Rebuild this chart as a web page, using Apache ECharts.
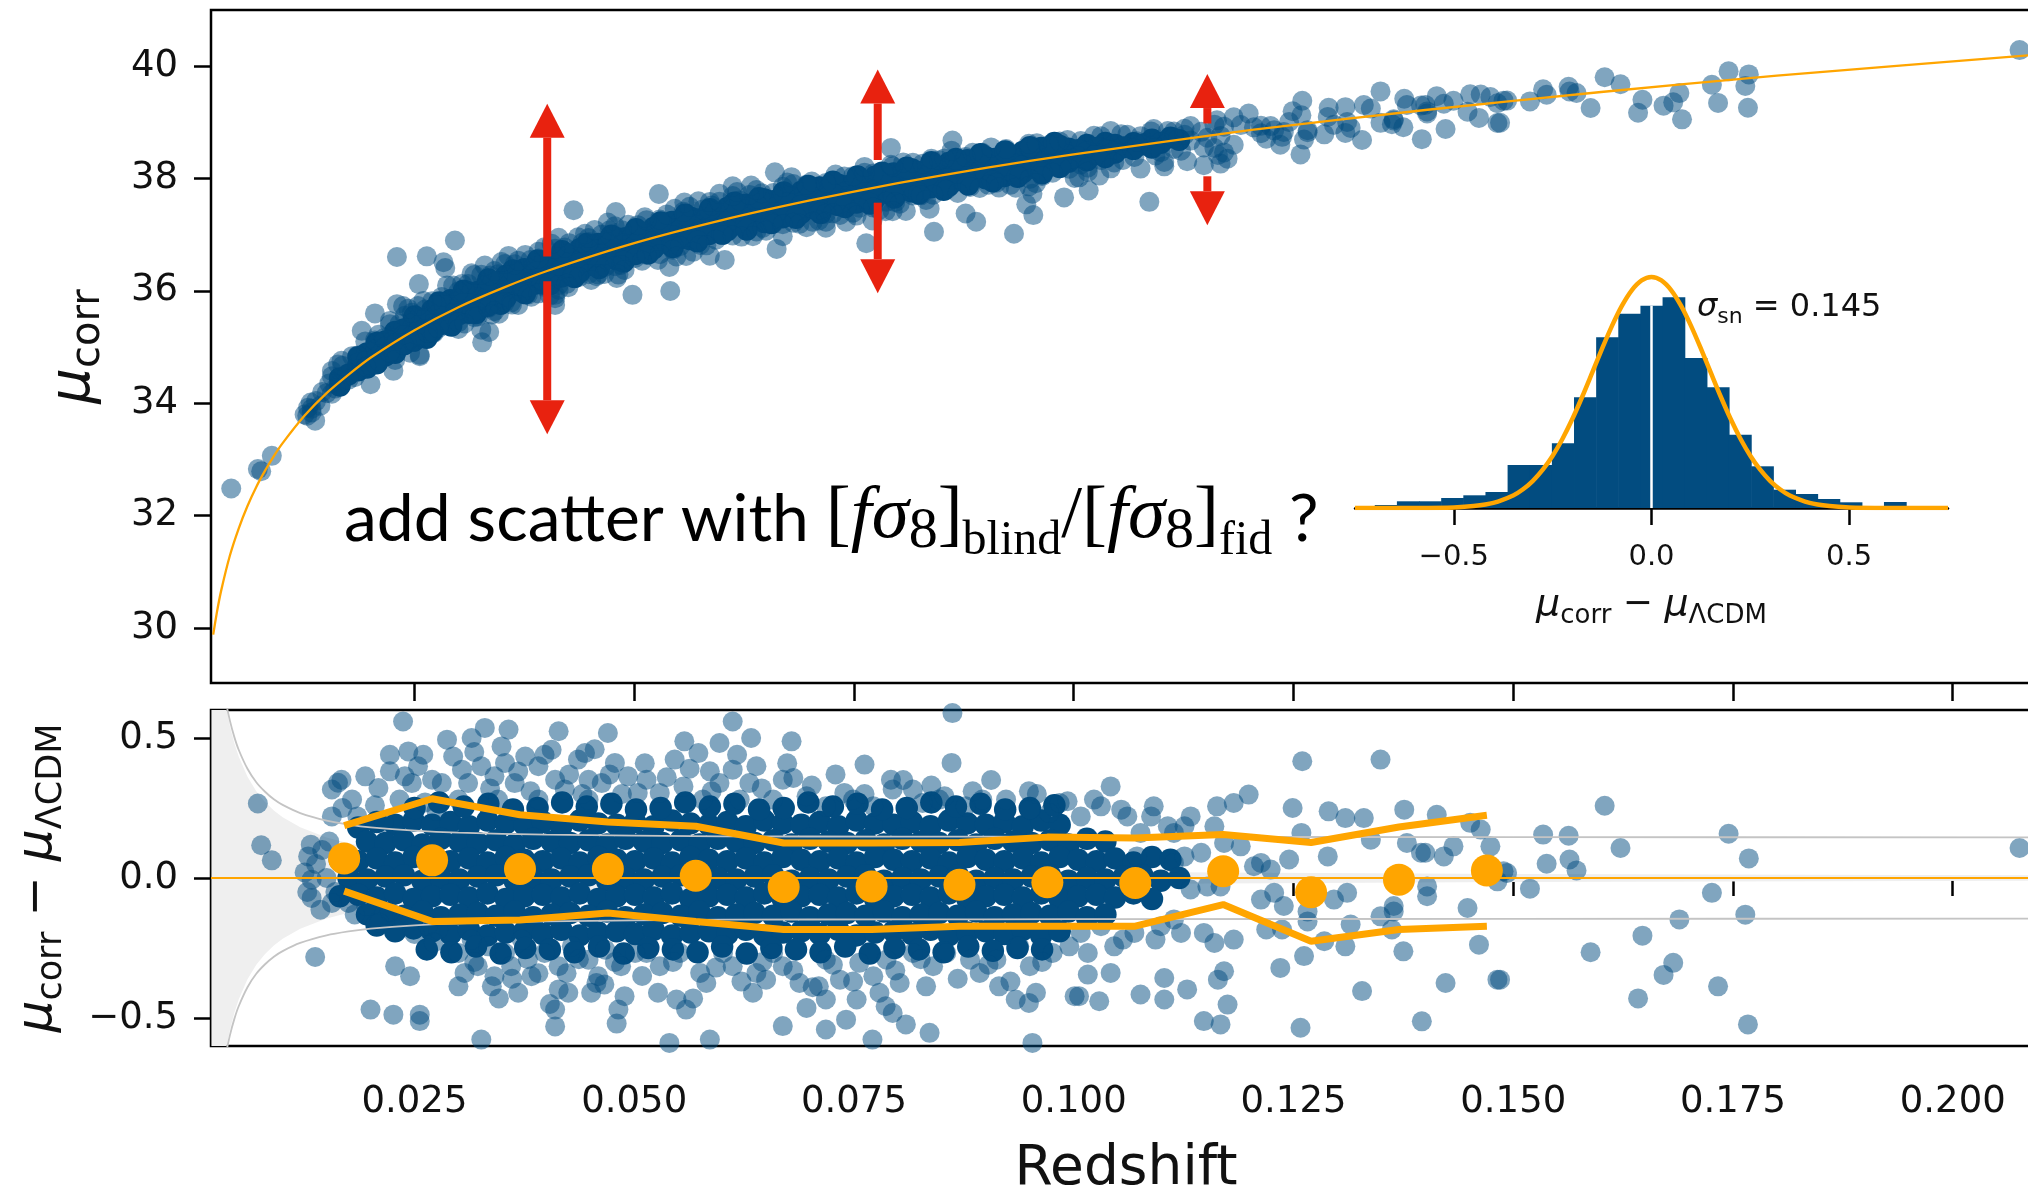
<!DOCTYPE html>
<html><head><meta charset="utf-8">
<script src="https://cdn.jsdelivr.net/npm/echarts/dist/echarts.min.js"></script>
<style>html,body{margin:0;padding:0;background:#fff}#c{width:2028px;height:1185px}</style>
</head><body><div id="c"></div>
<script>
// ---------------- data ----------------
const xTicks = [0.025,0.050,0.075,0.100,0.125,0.150,0.175,0.200];
const muTicks = [30,32,34,36,38,40];
const residTicks = [-0.5,0.0,0.5];
const histTicks = [-0.5,0.0,0.5];

// Lambda-CDM distance modulus curve
const curveZ  = [0.0021,0.0025,0.003,0.004,0.005,0.006,0.007,0.008,0.009,0.010,0.0125,0.015,0.0175,0.02,0.025,0.03,0.035,0.04,0.05,0.06,0.07,0.08,0.09,0.10,0.12,0.14,0.16,0.18,0.21];
const curveMu = [29.88,30.26,30.66,31.29,31.77,32.17,32.51,32.80,33.06,33.29,33.78,34.18,34.51,34.81,35.30,35.71,36.05,36.35,36.85,37.26,37.61,37.92,38.19,38.43,38.86,39.22,39.54,39.83,40.21];

// Hubble residuals (redshift, mu_corr - mu_LCDM): dense core of the sample
const snCore = [
[0.0186,0.18],[0.0207,0.2],[0.0228,0.19],[0.0249,0.205],
[0.0270,0.19],[0.0291,0.2],[0.0312,0.185],[0.0333,0.205],[0.0354,0.195],[0.0375,0.19],[0.0396,0.2],[0.0417,0.185],[0.0438,0.205],[0.0459,0.195],[0.0480,0.19],[0.0501,0.2],[0.0522,0.185],[0.0543,0.205],[0.0564,0.195],[0.0585,0.19],[0.0606,0.2],[0.0627,0.185],[0.0648,0.205],[0.0669,0.195],[0.0690,0.19],[0.0711,0.2],[0.0732,0.185],[0.0753,0.205],[0.0774,0.195],[0.0795,0.19],[0.0816,0.2],[0.0837,0.185],[0.0858,0.205],[0.0879,0.195],[0.0900,0.19],[0.0921,0.2],[0.0942,0.185],[0.0963,0.205],[0.0984,0.19],
[0.0196,0.13],[0.0217,0.125],[0.0238,0.135],[0.0259,0.12],[0.0280,0.14],[0.0301,0.13],[0.0322,0.125],[0.0343,0.135],[0.0364,0.12],[0.0385,0.14],[0.0406,0.13],[0.0427,0.125],[0.0448,0.135],[0.0469,0.12],[0.0490,0.14],[0.0511,0.13],[0.0532,0.125],[0.0553,0.135],[0.0574,0.12],[0.0595,0.14],[0.0616,0.13],[0.0637,0.125],[0.0658,0.135],[0.0679,0.12],[0.0700,0.14],[0.0721,0.13],[0.0742,0.125],[0.0763,0.135],[0.0784,0.12],[0.0805,0.14],[0.0826,0.13],[0.0847,0.125],[0.0868,0.135],[0.0889,0.12],[0.0910,0.14],[0.0931,0.13],[0.0952,0.125],[0.0973,0.135],[0.0994,0.12],[0.1015,0.14],[0.1036,0.13],
[0.0165,0.065],[0.0186,0.06],[0.0207,0.07],[0.0228,0.055],[0.0249,0.075],[0.0270,0.065],[0.0291,0.06],[0.0312,0.07],[0.0333,0.055],[0.0354,0.075],[0.0375,0.065],[0.0396,0.06],[0.0417,0.07],[0.0438,0.055],[0.0459,0.075],[0.0480,0.065],[0.0501,0.06],[0.0522,0.07],[0.0543,0.055],[0.0564,0.075],[0.0585,0.065],[0.0606,0.06],[0.0627,0.07],[0.0648,0.055],[0.0669,0.075],[0.0690,0.065],[0.0711,0.06],[0.0732,0.07],[0.0753,0.055],[0.0774,0.075],[0.0795,0.065],[0.0816,0.06],[0.0837,0.07],[0.0858,0.055],[0.0879,0.075],[0.0900,0.065],[0.0921,0.06],[0.0942,0.07],[0.0963,0.055],[0.0984,0.075],[0.1005,0.065],[0.1026,0.06],[0.1047,0.07],[0.1068,0.055],[0.1089,0.075],[0.1110,0.065],
[0.0175,0],[0.0196,-0.005],[0.0217,0.005],[0.0238,0.01],[0.0259,-0.01],[0.0280,0],[0.0301,-0.005],[0.0322,0.005],[0.0343,0.01],[0.0364,-0.01],[0.0385,0],[0.0406,-0.005],[0.0427,0.005],[0.0448,0.01],[0.0469,-0.01],[0.0490,0],[0.0511,-0.005],[0.0532,0.005],[0.0553,0.01],[0.0574,-0.01],[0.0595,0],[0.0616,-0.005],[0.0637,0.005],[0.0658,0.01],[0.0679,-0.01],[0.0700,0],[0.0721,-0.005],[0.0742,0.005],[0.0763,0.01],[0.0784,-0.01],[0.0805,0],[0.0826,-0.005],[0.0847,0.005],[0.0868,0.01],[0.0889,-0.01],[0.0910,0],[0.0931,-0.005],[0.0952,0.005],[0.0973,0.01],[0.0994,-0.01],[0.1015,0],[0.1036,-0.005],[0.1057,0.005],[0.1078,0.01],[0.1099,-0.01],[0.1120,0],
[0.0165,-0.065],[0.0186,-0.06],[0.0207,-0.07],[0.0228,-0.055],[0.0249,-0.075],[0.0270,-0.065],[0.0291,-0.06],[0.0312,-0.07],[0.0333,-0.055],[0.0354,-0.075],[0.0375,-0.065],[0.0396,-0.06],[0.0417,-0.07],[0.0438,-0.055],[0.0459,-0.075],[0.0480,-0.065],[0.0501,-0.06],[0.0522,-0.07],[0.0543,-0.055],[0.0564,-0.075],[0.0585,-0.065],[0.0606,-0.06],[0.0627,-0.07],[0.0648,-0.055],[0.0669,-0.075],[0.0690,-0.065],[0.0711,-0.06],[0.0732,-0.07],[0.0753,-0.055],[0.0774,-0.075],[0.0795,-0.065],[0.0816,-0.06],[0.0837,-0.07],[0.0858,-0.055],[0.0879,-0.075],[0.0900,-0.065],[0.0921,-0.06],[0.0942,-0.07],[0.0963,-0.055],[0.0984,-0.075],[0.1005,-0.065],[0.1026,-0.06],[0.1047,-0.07],[0.1068,-0.055],[0.1089,-0.075],
[0.0196,-0.13],[0.0217,-0.125],[0.0238,-0.135],[0.0259,-0.12],[0.0280,-0.14],[0.0301,-0.13],[0.0322,-0.125],[0.0343,-0.135],[0.0364,-0.12],[0.0385,-0.14],[0.0406,-0.13],[0.0427,-0.125],[0.0448,-0.135],[0.0469,-0.12],[0.0490,-0.14],[0.0511,-0.13],[0.0532,-0.125],[0.0553,-0.135],[0.0574,-0.12],[0.0595,-0.14],[0.0616,-0.13],[0.0637,-0.125],[0.0658,-0.135],[0.0679,-0.12],[0.0700,-0.14],[0.0721,-0.13],[0.0742,-0.125],[0.0763,-0.135],[0.0784,-0.12],[0.0805,-0.14],[0.0826,-0.13],[0.0847,-0.125],[0.0868,-0.135],[0.0889,-0.12],[0.0910,-0.14],[0.0931,-0.13],[0.0952,-0.125],[0.0973,-0.135],[0.0994,-0.12],[0.1015,-0.14],[0.1036,-0.13],
[0.0207,-0.17],[0.0228,-0.19],[0.0249,-0.18],
[0.0270,-0.19],[0.0291,-0.2],[0.0312,-0.185],[0.0333,-0.205],[0.0354,-0.195],[0.0375,-0.19],[0.0396,-0.2],[0.0417,-0.185],[0.0438,-0.205],[0.0459,-0.195],[0.0480,-0.19],[0.0501,-0.2],[0.0522,-0.185],[0.0543,-0.205],[0.0564,-0.195],[0.0585,-0.19],[0.0606,-0.2],[0.0627,-0.185],[0.0648,-0.205],[0.0669,-0.195],[0.0690,-0.19],[0.0711,-0.2],[0.0732,-0.185],[0.0753,-0.205],[0.0774,-0.195],[0.0795,-0.19],[0.0816,-0.2],[0.0837,-0.185],[0.0858,-0.205],[0.0879,-0.195],[0.0900,-0.19],[0.0921,-0.2],[0.0942,-0.185],[0.0963,-0.205],[0.0984,-0.19],
[0.0250,0.25],[0.0278,0.27],[0.0306,0.255],[0.0334,0.265],[0.0362,0.245],[0.0390,0.25],[0.0418,0.27],[0.0446,0.255],[0.0474,0.265],[0.0502,0.245],[0.0530,0.25],[0.0558,0.27],[0.0586,0.255],[0.0614,0.265],[0.0642,0.245],[0.0670,0.25],[0.0698,0.27],[0.0726,0.255],[0.0754,0.265],[0.0782,0.245],[0.0810,0.25],[0.0838,0.27],[0.0866,0.255],[0.0894,0.265],[0.0922,0.245],[0.0950,0.25],[0.0978,0.26],
[0.0264,-0.255],[0.0292,-0.265],[0.0320,-0.245],[0.0348,-0.27],[0.0376,-0.25],[0.0404,-0.255],[0.0432,-0.265],[0.0460,-0.245],[0.0488,-0.27],[0.0516,-0.25],[0.0544,-0.255],[0.0572,-0.265],[0.0600,-0.245],[0.0628,-0.27],[0.0656,-0.25],[0.0684,-0.255],[0.0712,-0.265],[0.0740,-0.245],[0.0768,-0.27],[0.0796,-0.25],[0.0824,-0.255],[0.0852,-0.265],[0.0880,-0.245],[0.0908,-0.26],[0.0936,-0.25],[0.0964,-0.255]
];

// Hubble residuals: fringe and outliers (some lie beyond the lower panel's range)
const snSpread = [
[0.00718,0.266],[0.00756,0.117],[0.00877,0.063],[0.0129,0.077],[0.0137,-0.282],[0.0132,0.119],[0.0133,-0.006],[0.0133,-0.071],[0.0143,-0.113],[0.0156,-0.089],[0.0175,-0.089],[0.0156,0.22],[0.0163,0.34],
[0.0125,0.02],[0.0128,-0.05],[0.0138,0.05],[0.0145,0.1],[0.015,0.0],[0.0153,0.13],[0.016,-0.05],
[0.02,-0.47],[0.0226,-0.488],[0.0228,-0.315],[0.0245,-0.351],[0.0256,-0.488],[0.0256,-0.511],[0.0326,-0.577],[0.0237,0.559],[0.019,0.601],[0.0222,0.44],[0.0243,0.452],[0.026,0.44],[0.0287,0.494],[0.0315,0.5],[0.033,0.536],[0.0357,0.53],[0.0414,0.524],[0.047,0.518],[0.0444,0.446],[0.03,-0.387],[0.0338,-0.387],[0.036,-0.315],[0.041,-0.47],[0.041,-0.53],[0.0482,-0.47],[0.048,-0.52],[0.0391,-0.34],[0.0425,-0.41],[0.0457,-0.375],
[0.0156,0.316],[0.0167,0.351],[0.0179,0.28],[0.0194,0.363],[0.0209,0.321],[0.0222,0.381],[0.0239,0.363],[0.0247,0.339],[0.0254,0.399],[0.027,0.351],[0.0281,0.339],[0.0294,0.434],[0.0304,0.387],[0.0311,0.339],[0.0326,0.399],[0.0341,0.363],[0.0353,0.411],[0.0364,0.339],[0.0376,0.434],[0.0391,0.399],[0.0406,0.458],[0.041,0.351],[0.0421,0.316],[0.0436,0.423],[0.0448,0.351],[0.0463,0.339],[0.0478,0.411],[0.0493,0.363],[0.0504,0.304],[0.0345,0.28],[0.0391,0.28],[0.03,0.28],[0.0448,0.28],
[0.0168,0.25],[0.0185,0.22],[0.0205,0.26],[0.0215,0.2],[0.0233,0.28],[0.0262,0.27],[0.0275,0.24],[0.0182,-0.13],[0.0195,-0.1],[0.021,-0.16],[0.0222,-0.12],[0.0238,-0.15],[0.025,-0.2],[0.0265,-0.17],[0.0272,-0.23],
[0.0277,-0.184],[0.03,-0.268],[0.0315,-0.22],[0.0307,-0.339],[0.0322,-0.315],[0.0334,-0.244],[0.0353,-0.268],[0.0372,-0.22],[0.0383,-0.351],[0.0398,-0.268],[0.0414,-0.315],[0.0429,-0.244],[0.0448,-0.292],[0.0459,-0.351],[0.0467,-0.256],[0.0485,-0.315],[0.0501,-0.268],[0.0414,-0.398],[0.0451,-0.41],[0.0489,-0.422],[0.0368,-0.41],[0.0341,-0.351],
[0.0318,0.45],[0.0336,0.32],[0.0349,0.47],[0.0368,0.38],[0.0382,0.31],[0.0398,0.44],[0.0426,0.37],[0.0441,0.3],[0.0455,0.46],[0.0472,0.37],[0.0486,0.3],[0.0512,0.41],[0.0537,0.36],[0.0563,0.39],[0.0588,0.31],[0.0617,0.44],[0.0645,0.32],[0.0674,0.41],[0.0702,0.33],[0.0729,0.37],[0.0762,0.3],[0.0806,0.35],[0.0838,0.33],[0.0885,0.31],[0.0906,0.35],[0.0958,0.3],
[0.0318,-0.3],[0.0346,-0.43],[0.0361,-0.36],[0.0379,-0.29],[0.0404,-0.45],[0.0423,-0.34],[0.0437,-0.29],[0.0466,-0.38],[0.0478,-0.3],[0.0509,-0.35],[0.0527,-0.41],[0.0544,-0.3],[0.0567,-0.43],[0.0593,-0.32],[0.0622,-0.37],[0.0646,-0.3],[0.0681,-0.33],[0.0703,-0.39],[0.0726,-0.31],[0.0749,-0.37],[0.0797,-0.33],[0.0826,-0.29],[0.0868,-0.36],[0.0903,-0.31],[0.0928,-0.37],[0.0964,-0.3],
[0.0612,0.559],[0.0557,0.488],[0.0597,0.482],[0.0633,0.5],[0.0679,0.488],[0.0573,0.446],[0.0546,0.423],[0.0639,0.399],[0.0762,0.405],[0.0861,0.411],[0.0862,0.589],[0.0586,0.381],[0.0612,0.387],[0.0681,0.357],[0.0792,0.351],[0.0949,0.31],[0.0993,0.274],[0.0817,0.316],[0.0853,0.292],[0.0739,0.304],
[0.0548,-0.434],[0.0559,-0.47],[0.0582,-0.375],[0.0669,-0.529],[0.0718,-0.541],[0.0696,-0.464],[0.0741,-0.506],[0.0786,-0.458],[0.0809,-0.523],[0.0836,-0.553],[0.054,-0.589],[0.0586,-0.577],[0.0915,-0.387],[0.0934,-0.434],[0.0949,-0.446],[0.0957,-0.41],[0.0953,-0.589],[0.1001,-0.422],[0.0771,-0.577],[0.071,-0.387],[0.0832,-0.387],[0.065,-0.363],
[0.0514,0.351],[0.0529,0.304],[0.0556,0.327],[0.0578,0.28],[0.0597,0.339],[0.062,0.28],[0.0631,0.339],[0.0658,0.28],[0.0669,0.351],[0.0696,0.292],[0.0718,0.256],[0.0749,0.28],[0.0772,0.256],[0.0794,0.316],[0.0828,0.268],[0.0847,0.28],[0.0877,0.256],[0.0896,0.28],[0.0923,0.28],[0.095,0.244],[0.0972,0.232],[0.0984,0.268],
[0.0514,-0.268],[0.0529,-0.315],[0.0552,-0.268],[0.0575,-0.339],[0.0601,-0.268],[0.0612,-0.315],[0.0639,-0.339],[0.0658,-0.268],[0.0669,-0.315],[0.0688,-0.375],[0.0718,-0.292],[0.0734,-0.363],[0.0756,-0.303],[0.0772,-0.351],[0.0787,-0.292],[0.0802,-0.375],[0.0817,-0.268],[0.084,-0.315],[0.0855,-0.268],[0.0882,-0.292],[0.0893,-0.339],[0.0912,-0.292],[0.0938,-0.244],[0.095,-0.315],[0.0976,-0.268],[0.0995,-0.244],[0.0753,-0.434],[0.0779,-0.41],[0.0794,-0.482],[0.0718,-0.434],[0.0635,-0.41],
[0.1042,0.327],[0.126,0.417],[0.1349,0.423],[0.1199,0.298],[0.1182,0.268],[0.1163,0.256],[0.1249,0.25],[0.129,0.238],[0.1309,0.214],[0.133,0.214],[0.1376,0.244],[0.1413,0.226],[0.1451,0.197],[0.1463,0.173],[0.1474,0.113],[0.1493,0.018],[0.1482,-0.012],[0.1061,0.22],[0.1091,0.256],[0.1031,0.256],[0.1338,0.137],[0.1289,0.077],[0.1245,0.066],[0.1259,0.161],[0.1379,0.125],[0.1395,0.09],[0.14,0.09],[0.1421,0.077],[0.1432,0.113],[0.1402,-0.065],[0.1402,-0.03],[0.1448,-0.107],[0.1461,-0.238],[0.1364,-0.1],[0.1364,-0.12],[0.1349,-0.137],[0.1362,-0.184],[0.1375,-0.262],[0.1311,-0.053],[0.1296,-0.077],[0.1315,-0.166],[0.1309,-0.244],[0.1285,-0.226],[0.1266,-0.12],[0.1266,-0.155],[0.1262,-0.279],[0.1235,-0.321],[0.1219,-0.184],[0.1237,-0.184],[0.1239,-0.1],[0.1213,-0.077],[0.1228,-0.053],[0.1182,-0.22],[0.116,-0.232],[0.1148,-0.196],[0.1328,-0.404],[0.1423,-0.375],[0.1482,-0.363],[0.1396,-0.512],[0.1258,-0.535],[0.1167,-0.523],[0.1148,-0.511],[0.1175,-0.452],[0.1164,-0.363],[0.1171,-0.333],[0.1129,-0.398],[0.1103,-0.357],[0.1103,-0.434],[0.1076,-0.416],[0.1093,-0.22],[0.1042,-0.339],[0.1016,-0.345],[0.1029,-0.44],[0.1006,-0.422],[0.1056,-0.22],[0.1114,-0.148],[0.1167,-0.03],[0.1152,-0.03],[0.1133,-0.041],[0.1205,0.042],[0.1213,0.054],[0.1224,0.03],[0.1145,0.09],[0.1126,0.077],[0.1114,0.054],[0.1076,0.161],[0.1072,0.077],[0.1171,0.125],[0.119,0.113],[0.116,0.185],[0.1126,0.185],[0.1114,0.161],
[0.1008,0.22],[0.1023,0.28],[0.1054,0.244],[0.1088,0.22],[0.1107,0.185],[0.1133,0.22],[0.1008,-0.196],[0.1031,-0.172],[0.1016,-0.268],[0.1046,-0.244],[0.1069,-0.196],[0.1099,-0.172],[0.1122,-0.196],
[0.1534,0.155],[0.1563,0.151],[0.1604,0.258],[0.1622,0.107],[0.1538,0.051],[0.1564,0.066],[0.1572,0.027],[0.1489,0.024],[0.1519,-0.038],[0.1588,-0.265],[0.1647,-0.206],[0.1689,-0.148],[0.1726,-0.053],[0.1745,0.158],[0.1768,0.07],[0.1764,-0.131],[0.1682,-0.303],[0.1671,-0.346],[0.1733,-0.387],[0.1642,-0.43],[0.1767,-0.523],[0.1692,-0.62],[0.1485,-0.363],[0.2076,0.107],
[0.00415,1.12],[0.023,1.5],[0.0264,1.2],[0.0296,1.22],[0.0283,0.94],[0.0285,0.82],[0.023,0.66],[0.0205,0.74],[0.0255,0.78],[0.0431,0.93],[0.0479,0.66],[0.0528,0.76],[0.0327,-0.81],[0.0335,-0.68],[0.041,-0.65],[0.0498,-0.91],[0.0541,-1.02],[0.066,0.64],[0.0792,0.65],[0.0603,-0.72],[0.0662,-0.73],[0.0764,-0.96],[0.0841,-0.98],[0.0889,-0.93],[0.0877,-0.75],[0.0932,-1.25],[0.0954,-0.97],[0.0946,-0.76],[0.0989,-0.74],[0.1017,-0.68],[0.1086,-1.03]
];

// binned statistics (orange)
const binZ     = [0.017,0.027,0.037,0.047,0.057,0.067,0.077,0.087,0.097,0.107,0.117,0.127,0.137,0.147];
const binMean  = [0.070,0.063,0.032,0.032,0.008,-0.032,-0.030,-0.024,-0.015,-0.018,0.024,-0.051,-0.006,0.027];
const binUpper = [0.187,0.283,0.226,0.200,0.185,0.125,0.125,0.127,0.146,0.143,0.155,0.127,0.182,0.224];
const binLower = [-0.047,-0.155,-0.150,-0.125,-0.155,-0.184,-0.184,-0.172,-0.172,-0.172,-0.095,-0.226,-0.184,-0.172];

// peculiar-velocity envelope (grey)
const pvZ     = [0.0019,0.0025,0.003,0.0035,0.004,0.0045,0.005,0.006,0.007,0.008,0.009,0.010,0.012,0.015,0.0175,0.020,0.025,0.030,0.040,0.060,0.080,0.100,0.150,0.210];
const pvTotal = [1.14,0.880,0.738,0.637,0.562,0.504,0.458,0.390,0.342,0.308,0.281,0.261,0.232,0.205,0.191,0.181,0.169,0.162,0.155,0.149,0.148,0.147,0.146,0.145];
const pvOnly  = [1.14,0.868,0.723,0.620,0.543,0.482,0.434,0.362,0.310,0.271,0.241,0.217,0.181,0.145,0.124,0.109,0.087,0.072,0.054,0.036,0.027,0.022,0.014,0.010];

// annotation arrows: [redshift, tail mu, tip mu]
const arrows = [[0.0401,36.61,39.33],[0.0401,36.17,33.45],[0.0777,38.33,39.94],[0.0777,37.57,35.96],[0.1152,38.98,39.86],[0.1152,38.04,37.17]];

// inset histogram of residuals
const histEdges  = [-0.700,-0.644,-0.588,-0.532,-0.476,-0.420,-0.364,-0.308,-0.252,-0.196,-0.140,-0.084,-0.028,0.028,0.084,0.140,0.196,0.252,0.308,0.364,0.420,0.476,0.532,0.588,0.644];
const histCounts = [3,6.7,6.7,10,12.7,16,43,43,64.7,110.7,170.7,194.3,202.3,210.7,150,120.7,73.3,41.7,18.3,14,9,5.7,1.5,6];
const gaussX = [-0.75,-0.6,-0.5,-0.45,-0.4,-0.35,-0.325,-0.3,-0.275,-0.25,-0.225,-0.2,-0.175,-0.15,-0.125,-0.1,-0.075,-0.05,-0.025,0,0.025,0.05,0.075,0.1,0.125,0.15,0.175,0.2,0.225,0.25,0.275,0.3,0.325,0.35,0.4,0.45,0.5,0.6,0.75];
const gaussY = [0,0.1,0.6,1.9,5.1,12.5,18.7,27.2,38.3,52.3,69.3,89.2,111.5,135.3,159.3,182.1,202.1,217.7,227.6,231,227.6,217.7,202.1,182.1,159.3,135.3,111.5,89.2,69.3,52.3,38.3,27.2,18.7,12.5,5.1,1.9,0.6,0.1,0];

// ---------------- chart ----------------
const FONT = 'DejaVu Sans';
const BLUE = '#024c80';
const ORANGE = '#ffa500';
const RED = '#e8220f';
const GREY = '#c4c4c4';
const XMIN = 0.00185, XMAX = 0.21004;

function muModelAt(z){
  if (z <= curveZ[0]) return curveMu[0];
  for (let i = 1; i < curveZ.length; i++) {
    if (z <= curveZ[i]) {
      const t = (z - curveZ[i-1]) / (curveZ[i] - curveZ[i-1]);
      return curveMu[i-1] + t * (curveMu[i] - curveMu[i-1]);
    }
  }
  return curveMu[curveMu.length-1];
}
// upper panel shows the same supernovae: mu_corr = mu_LCDM(z) + residual
const topCore = snCore.map(p => [p[0], muModelAt(p[0]) + p[1]]);
const topSpread = snSpread.map(p => [p[0], muModelAt(p[0]) + p[1]]);
const zip = (a, b) => a.map((v, i) => [v, b[i]]);
const minusFmt = v => (v < 0 ? '\u2212' : '') + Math.abs(v).toFixed(1);

const tickStyle = {color: '#000', width: 2.5};
const labelStyle = {color: '#111', fontSize: 37, fontFamily: FONT};

const chart = echarts.init(document.getElementById('c'));
chart.setOption({
  animation: false,
  backgroundColor: '#fff',
  textStyle: {fontFamily: FONT},
  grid: [
    {left: 211, top: 10, width: 1830, height: 673, show: true, borderColor: '#000', borderWidth: 2.5, backgroundColor: 'transparent', containLabel: false, outerBoundsMode: 'none'},
    {left: 211, top: 710, width: 1830, height: 336, show: true, borderColor: '#000', borderWidth: 2.5, backgroundColor: 'transparent', containLabel: false, outerBoundsMode: 'none'},
    {left: 1355, top: 268, width: 593, height: 240, show: false, containLabel: false, outerBoundsMode: 'none'}
  ],
  xAxis: [
    {gridIndex: 0, type: 'value', min: XMIN, max: XMAX, axisLine: {show: false}, splitLine: {show: false},
     axisTick: {show: true, customValues: xTicks, length: 18, lineStyle: tickStyle}, axisLabel: {show: false}},
    {gridIndex: 1, type: 'value', min: XMIN, max: XMAX, axisLine: {show: false}, splitLine: {show: false},
     axisTick: {show: true, customValues: xTicks, length: 18, lineStyle: tickStyle},
     axisLabel: Object.assign({show: true, customValues: xTicks, margin: 38, formatter: v => v.toFixed(3)}, labelStyle),
     name: 'Redshift', nameLocation: 'middle', nameGap: 96, nameTextStyle: {fontSize: 55, color: '#111', fontFamily: FONT}},
    {gridIndex: 2, type: 'value', min: -0.75, max: 0.75, splitLine: {show: false},
     axisLine: {show: true, onZero: false, lineStyle: {color: '#000', width: 2.5}},
     axisTick: {show: true, customValues: histTicks, length: 17, lineStyle: tickStyle},
     axisLabel: {show: true, customValues: histTicks, margin: 35, formatter: minusFmt, color: '#111', fontSize: 29, fontFamily: FONT},
     name: '{m|\u03bc}{s|corr}{t| \u2212 }{m|\u03bc}{s|\u039bCDM}', nameLocation: 'middle', nameGap: 84,
     nameTextStyle: {color: '#111', rich: {
       m: {fontSize: 38, fontStyle: 'italic', fontFamily: FONT, color: '#111', lineHeight: 38, verticalAlign: 'bottom', padding: [0,0,6,0]},
       s: {fontSize: 26, fontFamily: FONT, color: '#111', lineHeight: 26, verticalAlign: 'bottom', padding: [0,0,1,0]},
       t: {fontSize: 36, fontFamily: FONT, color: '#111', lineHeight: 36, verticalAlign: 'bottom', padding: [0,0,7,0]}}}}
  ],
  yAxis: [
    {gridIndex: 0, type: 'value', min: 29.02, max: 41.0, axisLine: {show: false}, splitLine: {show: false},
     axisTick: {show: true, customValues: muTicks, length: 17, lineStyle: tickStyle},
     axisLabel: Object.assign({show: true, customValues: muTicks, margin: 33}, labelStyle),
     name: '{m|\u03bc}{s|corr}', nameLocation: 'middle', nameRotate: 90, nameGap: 100,
     nameTextStyle: {color: '#111', rich: {
       m: {fontSize: 56, fontStyle: 'italic', fontFamily: FONT, color: '#111', lineHeight: 56, verticalAlign: 'bottom', padding: [0,0,9,0]},
       s: {fontSize: 40, fontFamily: FONT, color: '#111', lineHeight: 40, verticalAlign: 'bottom', padding: [0,0,2,0]}}}},
    {gridIndex: 1, type: 'value', min: -0.6, max: 0.6, axisLine: {show: false}, splitLine: {show: false},
     axisTick: {show: true, customValues: residTicks, length: 17, lineStyle: tickStyle},
     axisLabel: Object.assign({show: true, customValues: residTicks, margin: 33, formatter: minusFmt}, labelStyle),
     name: '{m|\u03bc}{s|corr}{t| \u2212 }{m|\u03bc}{s|\u039bCDM}', nameLocation: 'middle', nameRotate: 90, nameGap: 140,
     nameTextStyle: {color: '#111', rich: {
       m: {fontSize: 50, fontStyle: 'italic', fontFamily: FONT, color: '#111', lineHeight: 50, verticalAlign: 'bottom', padding: [0,0,8,0]},
       s: {fontSize: 35, fontFamily: FONT, color: '#111', lineHeight: 35, verticalAlign: 'bottom', padding: [0,0,2,0]},
       t: {fontSize: 48, fontFamily: FONT, color: '#111', lineHeight: 48, verticalAlign: 'bottom', padding: [0,0,9,0]}}}},
    {gridIndex: 2, type: 'value', min: 0, max: 240, show: false}
  ],
  series: [
    // ---- lower panel ----
    {type: 'line', xAxisIndex: 1, yAxisIndex: 1, data: zip(pvZ, pvOnly), symbol: 'none', silent: true, z: 1,
     lineStyle: {width: 0}, areaStyle: {color: '#efefef', opacity: 1}},
    {type: 'line', xAxisIndex: 1, yAxisIndex: 1, data: zip(pvZ, pvOnly.map(v => -v)), symbol: 'none', silent: true, z: 1,
     lineStyle: {width: 0}, areaStyle: {color: '#efefef', opacity: 1}},
    {type: 'scatter', xAxisIndex: 1, yAxisIndex: 1, data: snCore, symbolSize: 22.5, z: 2, itemStyle: {color: BLUE, opacity: 1}},
    {type: 'scatter', xAxisIndex: 1, yAxisIndex: 1, data: snSpread, symbolSize: 20, z: 2, itemStyle: {color: BLUE, opacity: 0.5}},
    {type: 'line', xAxisIndex: 1, yAxisIndex: 1, data: zip(pvZ, pvTotal), symbol: 'none', smooth: 0.3, silent: true, z: 3,
     lineStyle: {color: GREY, width: 1.8}},
    {type: 'line', xAxisIndex: 1, yAxisIndex: 1, data: zip(pvZ, pvTotal.map(v => -v)), symbol: 'none', smooth: 0.3, silent: true, z: 3,
     lineStyle: {color: GREY, width: 1.8}},
    {type: 'line', xAxisIndex: 1, yAxisIndex: 1, data: zip(binZ, binUpper), symbol: 'none', z: 4, lineStyle: {color: ORANGE, width: 7},
     markLine: {silent: true, symbol: 'none', label: {show: false}, lineStyle: {color: ORANGE, width: 2.2, type: 'solid'}, data: [{yAxis: 0}]}},
    {type: 'line', xAxisIndex: 1, yAxisIndex: 1, data: zip(binZ, binLower), symbol: 'none', z: 4, lineStyle: {color: ORANGE, width: 7}},
    {type: 'scatter', xAxisIndex: 1, yAxisIndex: 1, data: zip(binZ, binMean), symbolSize: 32, itemStyle: {color: ORANGE, opacity: 1}, z: 5},
    // ---- upper panel ----
    {type: 'scatter', xAxisIndex: 0, yAxisIndex: 0, data: topCore, symbolSize: 22, z: 2, itemStyle: {color: BLUE, opacity: 1}},
    {type: 'scatter', xAxisIndex: 0, yAxisIndex: 0, data: topSpread, symbolSize: 20, z: 2, itemStyle: {color: BLUE, opacity: 0.5}},
    {type: 'line', xAxisIndex: 0, yAxisIndex: 0, data: zip(curveZ, curveMu), symbol: 'none', smooth: 0.2, z: 3, lineStyle: {color: ORANGE, width: 2.3}},
    {type: 'custom', xAxisIndex: 0, yAxisIndex: 0, data: arrows, encode: {x: 0, y: [1, 2]}, z: 10, silent: true,
     renderItem: function (params, api) {
       const p0 = api.coord([api.value(0), api.value(1)]);
       const p1 = api.coord([api.value(0), api.value(2)]);
       const dir = p1[1] < p0[1] ? -1 : 1;
       const headL = 34, headW = 35, shaftW = 8, x = p0[0];
       const baseY = p1[1] - dir * headL;
       return {type: 'group', children: [
         {type: 'rect', shape: {x: x - shaftW / 2, y: Math.min(p0[1], baseY), width: shaftW, height: Math.abs(baseY - p0[1])}, style: {fill: RED}},
         {type: 'polygon', shape: {points: [[x - headW / 2, baseY], [x + headW / 2, baseY], [x, p1[1]]]}, style: {fill: RED}}
       ]};
     }},
    // ---- inset histogram ----
    {type: 'custom', xAxisIndex: 2, yAxisIndex: 2, data: histCounts.map((c, i) => [histEdges[i], histEdges[i+1], c]),
     encode: {x: [0, 1], y: 2}, silent: true, z: 3,
     renderItem: function (params, api) {
       const a = api.coord([api.value(0), api.value(2)]);
       const b = api.coord([api.value(1), 0]);
       return {type: 'rect', shape: {x: a[0], y: a[1], width: b[0] - a[0] + 0.6, height: b[1] - a[1]}, style: {fill: BLUE}};
     }},
    {type: 'line', xAxisIndex: 2, yAxisIndex: 2, data: [[0, 0], [0, histCounts[12]]], symbol: 'none', silent: true,
     lineStyle: {color: '#fff', width: 2.5}, z: 4},
    {type: 'line', xAxisIndex: 2, yAxisIndex: 2, data: zip(gaussX, gaussY), symbol: 'none', smooth: 0.3, silent: true,
     lineStyle: {color: ORANGE, width: 4.5}, z: 5}
  ],
  graphic: [
    {type: 'text', x: 344, y: 569, z: 100, silent: true, style: {
      text: '{t|add scatter with }{m|[}{mi|f\u03c3}{d|8}{m|]}{s|blind}{m|/[}{mi|f\u03c3}{d|8}{m|]}{s|fid}{t| ?}',
      align: 'left', verticalAlign: 'bottom',
      rich: {
        t: {fontFamily: 'Lato', fontSize: 66, lineHeight: 66, fill: '#000', verticalAlign: 'bottom', padding: [0,0,16,0]},
        m: {fontFamily: 'Liberation Serif', fontSize: 75, lineHeight: 75, fill: '#000', verticalAlign: 'bottom', padding: [0,0,14,0]},
        mi: {fontFamily: 'Liberation Serif', fontStyle: 'italic', fontSize: 75, lineHeight: 75, fill: '#000', verticalAlign: 'bottom', padding: [0,0,14,0]},
        d: {fontFamily: 'Liberation Serif', fontSize: 58, lineHeight: 58, fill: '#000', verticalAlign: 'bottom', padding: [0,0,8,0]},
        s: {fontFamily: 'Liberation Serif', fontSize: 48, lineHeight: 48, fill: '#000', verticalAlign: 'bottom', padding: [0,0,4,0]}
      }}},
    {type: 'text', x: 1697, y: 330, z: 100, silent: true, style: {
      text: '{g|\u03c3}{s|sn}{t| = 0.145}', align: 'left', verticalAlign: 'bottom',
      rich: {
        g: {fontFamily: FONT, fontStyle: 'italic', fontSize: 32, lineHeight: 32, fill: '#111', verticalAlign: 'bottom', padding: [0,0,6,0]},
        s: {fontFamily: FONT, fontSize: 22, lineHeight: 22, fill: '#111', verticalAlign: 'bottom', padding: [0,0,2,0]},
        t: {fontFamily: FONT, fontSize: 32, lineHeight: 32, fill: '#111', verticalAlign: 'bottom', padding: [0,0,6,0]}
      }}}
  ]
});
</script></body></html>
